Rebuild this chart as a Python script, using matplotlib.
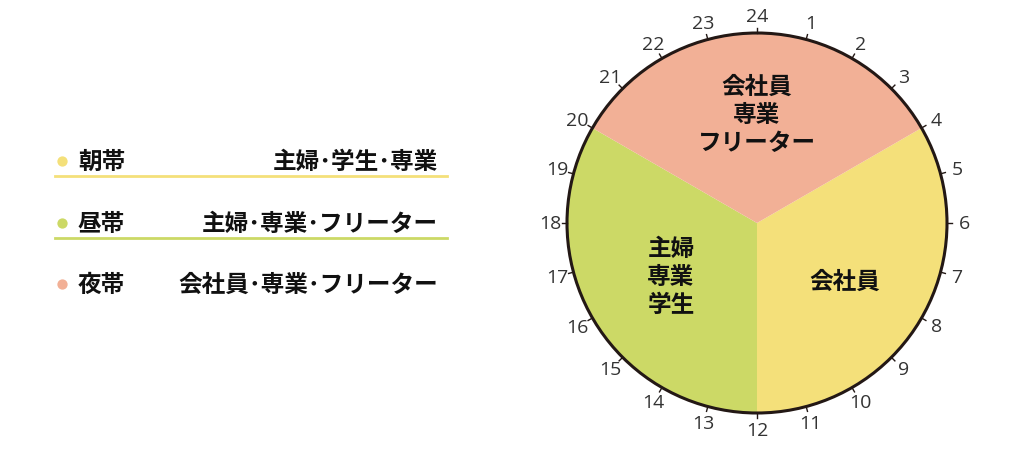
import matplotlib
matplotlib.use("Agg")
import matplotlib.pyplot as plt
from matplotlib.patches import Circle
import numpy as np

plt.rcParams['font.family'] = ['Noto Sans CJK JP', 'DejaVu Sans']

# Data
bands = ['朝帯', '昼帯', '夜帯']
band_desc = ['主婦･学生･専業', '主婦･専業･フリーター', '会社員･専業･フリーター']
band_colors = ['#F4E07A', '#CCD966', '#F2B096']
band_start_hour = [4, 12, 20]
band_hours = [8, 8, 8]
slice_labels = ['会社員', '主婦\n専業\n学生', '会社員\n専業\nフリーター']
hour_labels = [str(h) for h in range(1, 25)]

W, H = 1024, 452
fig = plt.figure(figsize=(W / 100, H / 100), dpi=100)
ax = fig.add_axes([0, 0, 1, 1])

cx, cy, R = 757, 452 - 224, 190

ax.pie(band_hours, colors=band_colors, startangle=90 - 15 * band_start_hour[0],
       counterclock=False, center=(cx, cy), radius=R, frame=True,
       wedgeprops=dict(linewidth=0, antialiased=True))
ax.add_patch(Circle((cx, cy), R, fill=False, edgecolor='#231815', linewidth=2.2, zorder=5))

# ticks and hour labels
for i, lab in enumerate(hour_labels):
    h = i + 1
    th = np.deg2rad(15 * h)
    sx, sy = np.sin(th), np.cos(th)
    ax.plot([cx + R * sx, cx + (R + 5) * sx], [cy + R * sy, cy + (R + 5) * sy],
            color='#231815', lw=1.0, zorder=6)
    rl = 207
    ax.text(cx + rl * sx, cy + rl * sy, lab, ha='center', va='center',
            fontsize=14, color='#333333', family=['Open Sans', 'DejaVu Sans'])

# slice labels
slice_pos = [(845, 282), (671, 277), (757, 115)]
for (x, y), t in zip(slice_pos, slice_labels):
    ax.text(x, H - y, t, ha='center', va='center', fontsize=17, fontweight='bold',
            color='#111111', linespacing=1.22)

# legend-like list
row_y = [162, 224, 285]
for i, (b, d, c) in enumerate(zip(bands, band_desc, band_colors)):
    y = H - row_y[i]
    ax.scatter([62], [y], s=55, color=c, zorder=4, linewidths=0)
    ax.text(78, y, b, ha='left', va='center', fontsize=17, fontweight='bold', color='#111111')
    ax.text(438, y, d, ha='right', va='center', fontsize=17, fontweight='bold', color='#111111')
    if i < 2:
        ax.plot([55, 447], [y - 15, y - 15], color=c, lw=2.0)

ax.set_xlim(0, W)
ax.set_ylim(0, H)
ax.set_aspect('equal')
ax.axis('off')
fig.savefig('out.png', dpi=100, facecolor='white')
